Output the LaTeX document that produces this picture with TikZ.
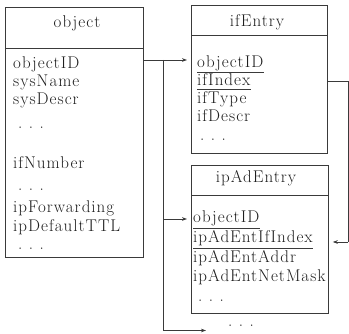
\documentclass[tikz,border=0pt]{standalone}
\usepackage{fontspec}
\setmainfont{Latin Modern Roman}[LetterSpace=6]
\usetikzlibrary{arrows.meta}
\definecolor{ln}{HTML}{3A3A3A}
\definecolor{tx}{HTML}{1E1E1E}
\newcommand\tfnt{\fontsize{17}{17}\selectfont}
\newcommand\threedots{\textperiodcentered\kern-1.5pt\textperiodcentered\kern-1.5pt\textperiodcentered}
\begin{document}
\begin{tikzpicture}[x=1pt,y=-1pt,
  box/.style={draw=ln, line width=0.8pt, rectangle, inner sep=0pt, anchor=north west},
  txt/.style={inner sep=0pt, anchor=base west, text=tx, font=\tfnt},
  dotrow/.style={inner sep=0pt, anchor=west, text=tx, font=\tfnt},
  ttl/.style={inner sep=0pt, anchor=base, text=tx, font=\tfnt},
  conn/.style={draw=ln, line width=0.8pt},
  arr/.style={conn, -{Stealth[length=5pt,width=3.6pt]}, shorten >=4pt},
  sepline/.style={draw=ln, line width=0.8pt},
  ul/.style={draw=ln, line width=0.7pt}]
\useasboundingbox (0,0) rectangle (349,334);

% boxes
\node[box, minimum width=138pt, minimum height=250pt] (obj) at (5,7) {};
\node[box, minimum width=136pt, minimum height=148pt] (ife) at (191,5) {};
\node[box, minimum width=137pt, minimum height=148pt] (ipa) at (191,165) {};
\draw[sepline] (5,48) -- (143,48);
\draw[sepline] (191,35) -- (327,35);
\draw[sepline] (191,195) -- (328,195);

% titles
\node[ttl] (tobj) at (77,28) {object};
\node[ttl] (tife) at (257,27) {ifEntry};
\node[ttl] (tipa) at (256,183) {ipAdEntry};

% object fields
\node[txt] (o1) at (13,69) {objectID};
\node[txt] (o2) at (13,87) {sysName};
\node[txt] (o3) at (13,105) {sysDescr};
\node[dotrow] (o4) at (14,130) {\threedots};
\node[txt] (o5) at (13,168.5) {ifNumber};
\node[dotrow] (o6) at (14,192) {\threedots};
\node[txt] (o7) at (13,213) {ipForwarding};
\node[txt] (o8) at (13,232) {ipDefaultTTL};
\node[dotrow] (o9) at (14,251) {\threedots};

% ifEntry fields
\node[txt] (e1) at (197,68) {objectID};
\node[txt] (e2) at (197,86) {ifIndex};
\node[txt] (e3) at (197,104) {ifType};
\node[txt] (e4) at (197,122) {ifDescr};
\node[dotrow] (e5) at (196,142) {\threedots};
\draw[ul] ([yshift=-4pt]e1.base west) -- ([yshift=-4pt]e1.base east);
\draw[ul] ([yshift=-3.5pt]e2.base west) -- ([yshift=-3.5pt]e2.base east);

% ipAdEntry fields
\node[txt] (a1) at (193,223) {objectID};
\node[txt] (a2) at (193,243) {ipAdEntIfIndex};
\node[txt] (a3) at (193,263) {ipAdEntAddr};
\node[txt] (a4) at (193,282) {ipAdEntNetMask};
\node[dotrow] (a5) at (194,303) {\threedots};
\draw[ul] ([yshift=-5pt]a1.base west) -- ([yshift=-5pt]a1.base east);
\draw[ul] ([yshift=-5pt]a2.base west) -- ([yshift=-5pt]a2.base east);

% more tables
\node[dotrow] (more) at (224,328.5) {\threedots};

% connectors
\coordinate (j0) at (163,60);
\coordinate (j1) at (163,219);
\coordinate (j2) at (163,330.5);
\coordinate (tip2) at (210,330.5);
\draw[arr] (obj.east |- j0) -- (ife.west |- j0);
\draw[conn] (j0) -- (j2);
\draw[arr] (j1) -- (ipa.west |- j1);
\draw[arr] (j2) -- (tip2);
\coordinate (r0) at (348,81);
\coordinate (r1) at (348,242);
\draw[conn] (ife.east |- r0) -- (r0) -- (r1);
\draw[arr] (r1) -- (ipa.east |- r1);
\end{tikzpicture}
\end{document}
